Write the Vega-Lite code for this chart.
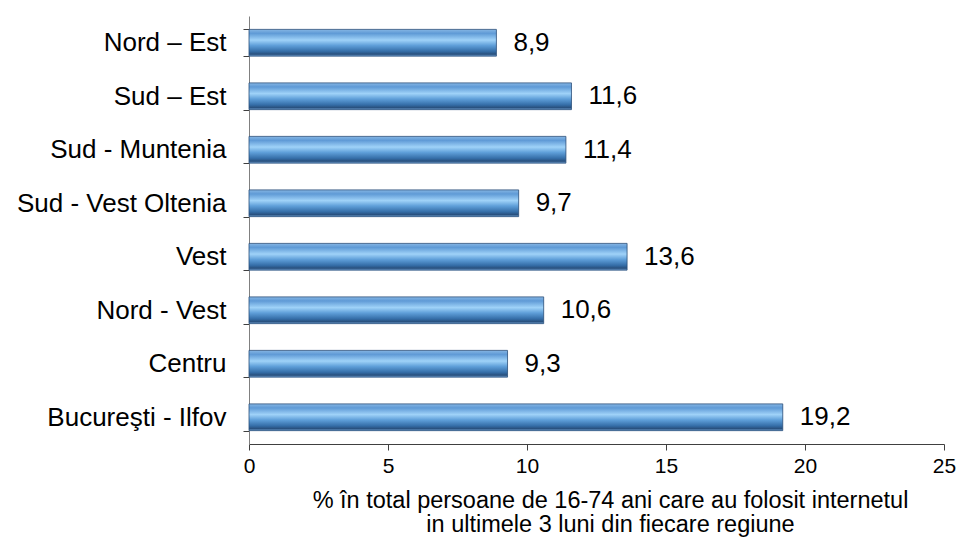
{
  "$schema": "https://vega.github.io/schema/vega-lite/v6.json",
  "autosize": "none",
  "width": 695,
  "height": 428,
  "padding": {"left": 249, "top": 16, "right": 15, "bottom": 94},
  "config": {
    "locale": {"number": {"decimal": ",", "thousands": ".", "grouping": [3], "currency": ["", " lei"]}},
    "view": {"stroke": null},
    "font": "Liberation Sans"
  },
  "data": {
    "values": [
      {"regiune": "Nord – Est", "valoare": 8.9},
      {"regiune": "Sud – Est", "valoare": 11.6},
      {"regiune": "Sud - Muntenia", "valoare": 11.4},
      {"regiune": "Sud - Vest Oltenia", "valoare": 9.7},
      {"regiune": "Vest", "valoare": 13.6},
      {"regiune": "Nord - Vest", "valoare": 10.6},
      {"regiune": "Centru", "valoare": 9.3},
      {"regiune": "Bucureşti - Ilfov", "valoare": 19.2}
    ]
  },
  "encoding": {
    "y": {
      "field": "regiune",
      "type": "nominal",
      "sort": null,
      "scale": {"paddingInner": 0.5, "paddingOuter": 0.25},
      "axis": {
        "title": null,
        "tickBand": "extent",
        "tickSize": 6,
        "tickColor": "#404040",
        "domainColor": "#808080",
        "labelFontSize": 26,
        "labelColor": "#000000",
        "labelPadding": 17,
        "labelFont": "Liberation Sans",
        "labelLimit": 300
      }
    },
    "x": {
      "field": "valoare",
      "type": "quantitative",
      "scale": {"domain": [0, 25], "nice": false},
      "axis": {
        "values": [0, 5, 10, 15, 20, 25],
        "grid": false,
        "labelFlush": false,
        "tickSize": 6,
        "tickColor": "#404040",
        "domainColor": "#404040",
        "labelFontSize": 21,
        "labelColor": "#000000",
        "labelPadding": 5,
        "labelFont": "Liberation Sans",
        "title": ["% în total persoane de 16-74 ani care au folosit internetul", "in ultimele 3 luni din fiecare regiune"],
        "titleFontSize": 23.5,
        "titleFontWeight": "normal",
        "titleColor": "#000000",
        "titleFont": "Liberation Sans",
        "titlePadding": 12,
        "titleLineHeight": 24,
        "titleX": 361
      }
    }
  },
  "layer": [
    {
      "mark": {
        "type": "bar",
        "stroke": "#2a4e78",
        "strokeWidth": 0.8,
        "fill": {
          "gradient": "linear",
          "x1": 0, "y1": 0, "x2": 0, "y2": 1,
          "stops": [
            {"offset": 0, "color": "#86b6e4"},
            {"offset": 0.15, "color": "#5f9ad6"},
            {"offset": 0.4, "color": "#9fd2f8"},
            {"offset": 0.6, "color": "#5f9fd9"},
            {"offset": 0.82, "color": "#356ea8"},
            {"offset": 0.93, "color": "#284f7c"},
            {"offset": 1, "color": "#78a9da"}
          ]
        }
      }
    },
    {
      "mark": {"type": "text", "align": "left", "baseline": "middle", "dx": 17, "fontSize": 26, "color": "#000000", "font": "Liberation Sans"},
      "encoding": {
        "text": {"field": "valoare", "type": "quantitative", "format": ".1f"}
      }
    }
  ]
}
